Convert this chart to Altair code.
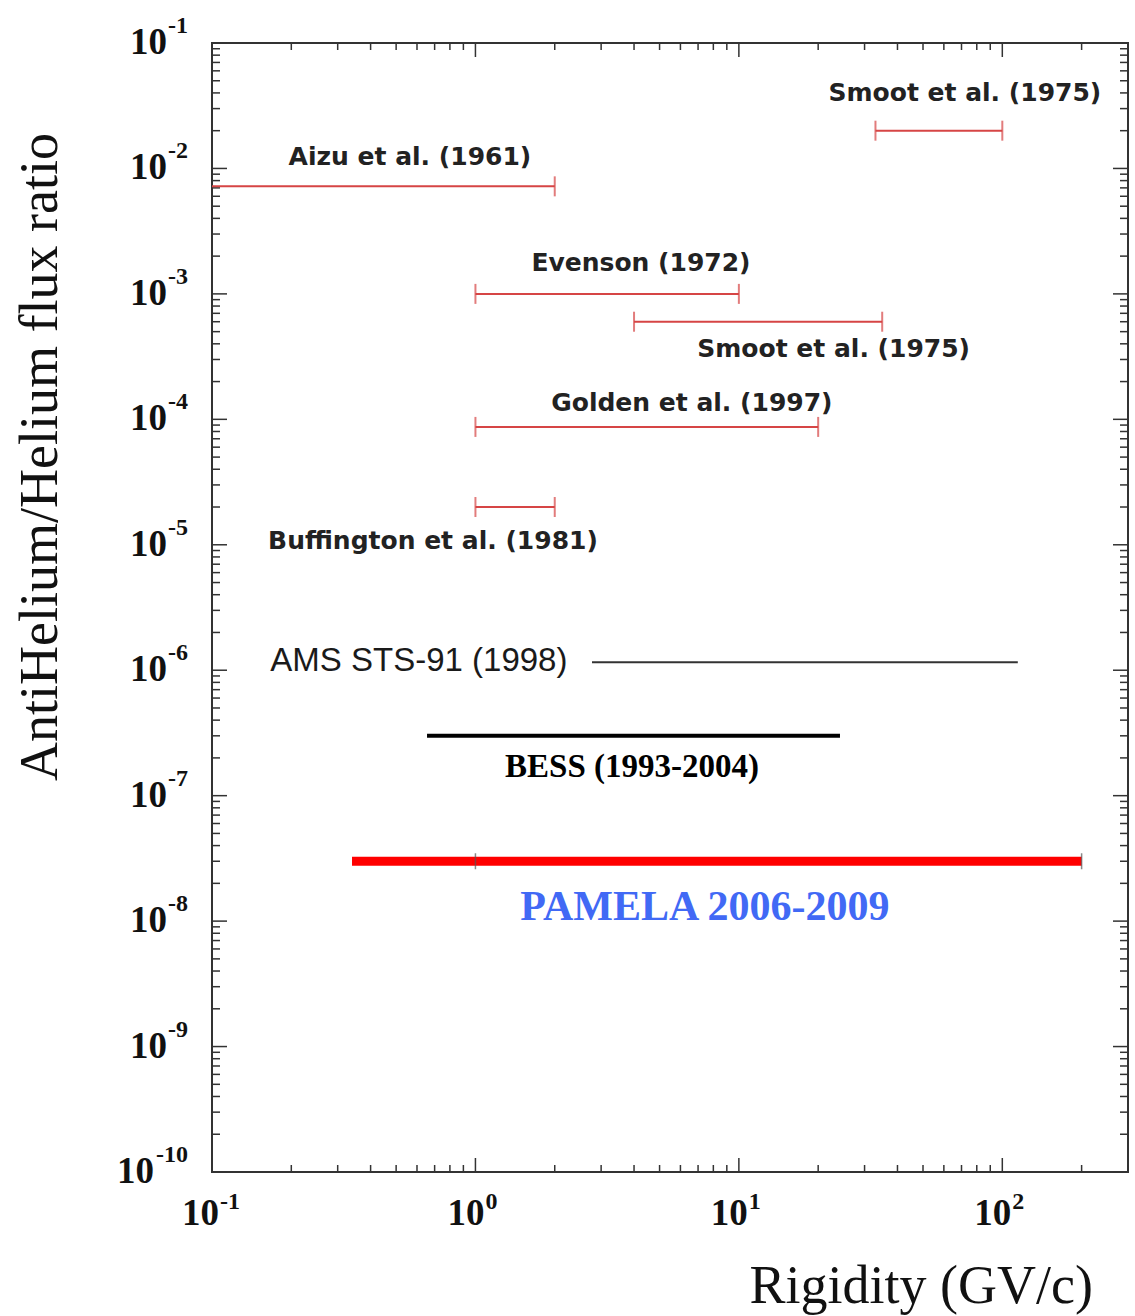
import altair as alt
import pandas as pd

# ---------------- data ----------------
red_names = ["Aizu et al. (1961)", "Smoot et al. (1975)", "Evenson (1972)",
             "Smoot et al. (1975)", "Golden et al. (1997)", "Buffington et al. (1981)"]
red_lo = [0.1, 33.0, 1.0, 4.0, 1.0, 1.0]
red_hi = [2.0, 100.0, 10.0, 35.0, 20.0, 2.0]
red_y = [7.2e-3, 2.0e-2, 1.0e-3, 6.0e-4, 8.7e-5, 2.0e-5]
red_label_x = [0.564, 72.1, 4.25, 22.9, 6.63, 0.690]
red_label_y = [1.23e-2, 3.99e-2, 1.76e-3, 3.63e-4, 1.35e-4, 1.07e-5]

ams_name = "AMS STS-91 (1998)"
ams_lo, ams_hi, ams_y = 2.77, 114.5, 1.16e-6
ams_label_x, ams_label_y = 0.610, 1.18e-6

bess_name = "BESS (1993-2004)"
bess_lo, bess_hi, bess_y = 0.655, 24.2, 3.0e-7
bess_label_x, bess_label_y = 3.93, 1.68e-7

pamela_name = "PAMELA 2006-2009"
pamela_lo, pamela_hi, pamela_y = 0.34, 200.0, 3.0e-8
pamela_caps = [1.0, 200.0]
pamela_label_x, pamela_label_y = 7.43, 1.29e-8

x_exps = [-1, 0, 1, 2]
y_exps = [-1, -2, -3, -4, -5, -6, -7, -8, -9, -10]
x_domain = [0.1, 300.0]
y_domain = [1e-10, 1e-1]

# ---------------- layout ----------------
W, H = 916, 1129
SERIF = "Liberation Serif"
SANS = "DejaVu Sans"
NARROW = "Liberation Sans"
RED = "#d64545"
TICK = "#333333"

xs = alt.Scale(type="log", domain=x_domain, nice=False)
ys = alt.Scale(type="log", domain=y_domain, nice=False)


def X(f):
    return alt.X(f, type="quantitative", scale=xs, axis=None)


def Y(f):
    return alt.Y(f, type="quantitative", scale=ys, axis=None)


# tables
red_df = pd.DataFrame({"name": red_names, "lo": red_lo, "hi": red_hi, "y": red_y,
                       "lx": red_label_x, "ly": red_label_y})
cap_rows = []
for lo, hi, y in zip(red_lo, red_hi, red_y):
    if lo > x_domain[0]:
        cap_rows.append({"x": lo, "y": y})
    cap_rows.append({"x": hi, "y": y})
cap_df = pd.DataFrame(cap_rows)

lines_df = pd.DataFrame({
    "name": [ams_name, bess_name, pamela_name],
    "lo": [ams_lo, bess_lo, pamela_lo],
    "hi": [ams_hi, bess_hi, pamela_hi],
    "y": [ams_y, bess_y, pamela_y],
    "lx": [ams_label_x, bess_label_x, pamela_label_x],
    "ly": [ams_label_y, bess_label_y, pamela_label_y],
})
pcap_df = pd.DataFrame({"x": pamela_caps, "y": [pamela_y] * len(pamela_caps)})

# axis tick tables
x_major = [10.0 ** e for e in x_exps]
x_minor = [k * 10.0 ** e for e in x_exps for k in range(2, 10) if k * 10.0 ** e <= x_domain[1]]
y_major = [10.0 ** e for e in y_exps]
y_minor = [k * 10.0 ** e for e in y_exps[1:] for k in range(2, 10)]
xmaj_df = pd.DataFrame({"v": x_major})
xmin_df = pd.DataFrame({"v": x_minor})
ymaj_df = pd.DataFrame({"v": y_major})
ymin_df = pd.DataFrame({"v": y_minor})

xlab_df = pd.DataFrame({"v": x_major, "base": ["10"] * len(x_exps), "exp": [str(e) for e in x_exps]})
ylab_df = pd.DataFrame({"v": y_major, "base": ["10"] * len(y_exps), "exp": [str(e) for e in y_exps]})

layers = []

# ---- ticks (inward on all four sides) ----
def xticks(df, length):
    b = alt.Chart(df).mark_rule(color=TICK, strokeWidth=1.5)
    return [
        b.encode(x=X("v"), y=alt.value(H), y2=alt.value(H - length)),
        b.encode(x=X("v"), y=alt.value(0), y2=alt.value(length)),
    ]


def yticks(df, length):
    b = alt.Chart(df).mark_rule(color=TICK, strokeWidth=1.5)
    return [
        b.encode(y=Y("v"), x=alt.value(0), x2=alt.value(length)),
        b.encode(y=Y("v"), x=alt.value(W), x2=alt.value(W - length)),
    ]


layers += xticks(xmaj_df, 14) + xticks(xmin_df, 7)
layers += yticks(ymaj_df, 15) + yticks(ymin_df, 8)

# ---- tick labels ----
base_x = alt.Chart(xlab_df)
layers.append(base_x.transform_filter("datum.exp == '-1'").mark_text(
    align="right", baseline="alphabetic", dx=7, font=SERIF, fontWeight="bold", fontSize=37, color="#111"
).encode(x=X("v"), y=alt.value(H + 53), text="base:N"))
layers.append(base_x.transform_filter("datum.exp != '-1'").mark_text(
    align="right", baseline="alphabetic", dx=9, font=SERIF, fontWeight="bold", fontSize=37, color="#111"
).encode(x=X("v"), y=alt.value(H + 53), text="base:N"))
layers.append(base_x.transform_filter("datum.exp == '-1'").mark_text(
    align="left", baseline="alphabetic", dx=8, font=SERIF, fontWeight="bold", fontSize=24, color="#111"
).encode(x=X("v"), y=alt.value(H + 37), text="exp:N"))
layers.append(base_x.transform_filter("datum.exp != '-1'").mark_text(
    align="left", baseline="alphabetic", dx=10, font=SERIF, fontWeight="bold", fontSize=24, color="#111"
).encode(x=X("v"), y=alt.value(H + 37), text="exp:N"))

base_y = alt.Chart(ylab_df)
layers.append(base_y.transform_filter("datum.exp != '-10'").mark_text(
    align="right", baseline="alphabetic", dy=11, font=SERIF, fontWeight="bold", fontSize=37, color="#111"
).encode(y=Y("v"), x=alt.value(-45), text="base:N"))
layers.append(base_y.transform_filter("datum.exp == '-10'").mark_text(
    align="right", baseline="alphabetic", dy=11, font=SERIF, fontWeight="bold", fontSize=37, color="#111"
).encode(y=Y("v"), x=alt.value(-58), text="base:N"))
layers.append(base_y.mark_text(
    align="right", baseline="alphabetic", dy=-10, font=SERIF, fontWeight="bold", fontSize=24, color="#111"
).encode(y=Y("v"), x=alt.value(-24), text="exp:N"))

# ---- axis titles ----
title_df = pd.DataFrame({"t": ["Rigidity (GV/c)"]})
layers.append(alt.Chart(title_df).mark_text(
    align="right", baseline="alphabetic", font=SERIF, fontSize=54, color="#111"
).encode(x=alt.value(881), y=alt.value(1260), text="t:N"))
ytitle_df = pd.DataFrame({"t": ["AntiHelium/Helium flux ratio"]})
layers.append(alt.Chart(ytitle_df).mark_text(
    align="center", baseline="alphabetic", angle=270, font=SERIF, fontSize=54, color="#111"
).encode(x=alt.value(-155), y=alt.value(414), text="t:N"))

# ---- red upper-limit bars ----
layers.append(alt.Chart(red_df).mark_rule(color=RED, strokeWidth=2).encode(
    x=X("lo"), x2="hi", y=Y("y")))
layers.append(alt.Chart(cap_df).mark_tick(orient="vertical", color=RED, size=20, thickness=2).encode(
    x=X("x"), y=Y("y")))
layers.append(alt.Chart(red_df).mark_text(
    align="center", baseline="middle", font=SANS, fontWeight="bold", fontSize=25, color="#222"
).encode(x=X("lx"), y=Y("ly"), text="name:N"))

# ---- AMS ----
ams_df = lines_df[lines_df["name"] == ams_name]
layers.append(alt.Chart(ams_df).mark_rule(color="#333", strokeWidth=2).encode(
    x=X("lo"), x2="hi", y=Y("y")))
layers.append(alt.Chart(ams_df).mark_text(
    align="center", baseline="middle", font=NARROW, fontSize=33, color="#1a1a1a"
).encode(x=X("lx"), y=Y("ly"), text="name:N"))

# ---- BESS ----
bess_df = lines_df[lines_df["name"] == bess_name]
layers.append(alt.Chart(bess_df).mark_rule(color="#000", strokeWidth=4).encode(
    x=X("lo"), x2="hi", y=Y("y")))
layers.append(alt.Chart(bess_df).mark_text(
    align="center", baseline="middle", font=SERIF, fontWeight="bold", fontSize=33, color="#000"
).encode(x=X("lx"), y=Y("ly"), text="name:N"))

# ---- PAMELA ----
pam_df = lines_df[lines_df["name"] == pamela_name]
layers.append(alt.Chart(pam_df).mark_rule(color="#ff0000", strokeWidth=9).encode(
    x=X("lo"), x2="hi", y=Y("y")))
layers.append(alt.Chart(pcap_df).mark_tick(orient="vertical", color="#555", size=16, thickness=1.5).encode(
    x=X("x"), y=Y("y")))
layers.append(alt.Chart(pam_df).mark_text(
    align="center", baseline="middle", font=SERIF, fontWeight="bold", fontSize=42, color="#4169f5"
).encode(x=X("lx"), y=Y("ly"), text="name:N"))

chart = alt.layer(*layers).properties(
    width=W, height=H,
    padding={"left": 212, "top": 43, "right": 7, "bottom": 144},
    autosize=alt.AutoSizeParams(type="none"),
    background="white",
).configure_view(stroke="#333333", strokeWidth=2)

chart.save("out.html", embed_options={"renderer": "svg", "actions": False})
